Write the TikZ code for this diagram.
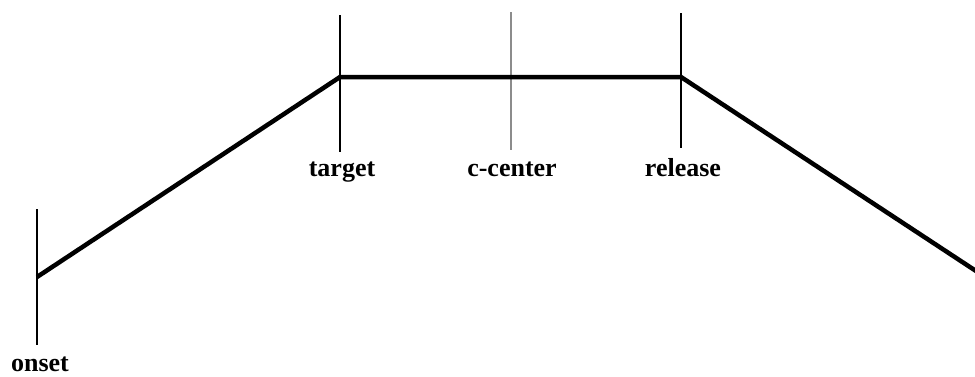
\documentclass[tikz,border=0pt]{standalone}
\usepackage{fontspec}
\setmainfont{Liberation Serif}
\begin{document}
\begin{tikzpicture}[x=1pt,y=-1pt,
  profile/.style={line width=4.5pt,black,line join=miter},
  marker/.style={line width=1.4pt,black},
  centermark/.style={line width=2pt,black!45},
  lab/.style={font=\fontsize{26}{26}\selectfont\bfseries,anchor=base,inner sep=0pt}]
\useasboundingbox (0,0) rectangle (975,376);
\clip (0,0) rectangle (975,376);
% key points
\coordinate (p0) at (37,277);
\coordinate (p1) at (340,77);
\coordinate (p2) at (681,77);
\coordinate (p3) at (976,271);
% marker ends
\coordinate (onT) at (37,209);  \coordinate (onB) at (37,345);
\coordinate (taT) at (340,15);  \coordinate (taB) at (340,152);
\coordinate (ccT) at (511,12);  \coordinate (ccB) at (511,150);
\coordinate (reT) at (681,13);  \coordinate (reB) at (681,148);
\draw[marker] (onT) -- (onB);
\draw[marker] (taT) -- (taB);
\draw[centermark] (ccT) -- (ccB);
\draw[marker] (reT) -- (reB);
\draw[profile] (p0) -- (p1) -- (p2) -- (p3);
% labels
\node[lab] (onset) at (40,371) {onset};
\node[lab] (target) at (342,176) {target};
\node[lab] (ccenter) at (512,176) {c-center};
\node[lab] (release) at (683,176) {release};
\end{tikzpicture}
\end{document}
